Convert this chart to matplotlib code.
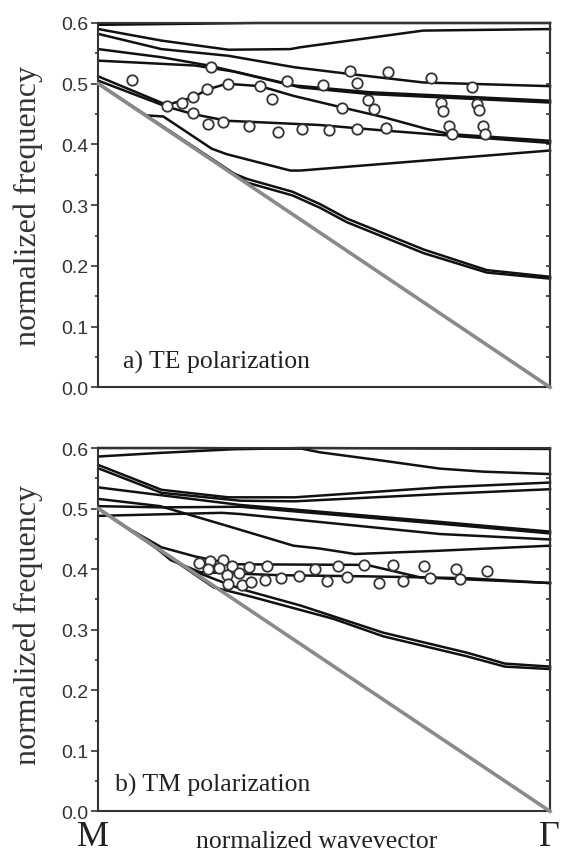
import matplotlib.pyplot as plt
from matplotlib.ticker import MultipleLocator

# TE bands (normalized wavevector M->Gamma, normalized frequency)
te1_k = [0, 0.33, 0.43, 0.49, 0.55, 0.72, 0.86, 1.0]
te1_f = [0.5, 0.337, 0.316, 0.296, 0.272, 0.221, 0.189, 0.179]
te2_k = [0, 0.30, 0.33, 0.43, 0.49, 0.55, 0.72, 0.86, 1.0]
te2_f = [0.5, 0.352, 0.343, 0.322, 0.302, 0.278, 0.227, 0.193, 0.182]
te3_k = [0, 0.104, 0.144, 0.251, 0.284, 0.425, 0.447, 1.0]
te3_f = [0.5, 0.448, 0.446, 0.393, 0.384, 0.357, 0.357, 0.39]
te4_k = [0, 0.152, 0.21, 0.284, 0.49, 0.631, 0.779, 1.0]
te4_f = [0.505, 0.462, 0.45, 0.439, 0.432, 0.423, 0.4145, 0.4025]
te5_k = [0, 0.152, 0.211, 0.24, 0.284, 0.358, 0.432, 0.539, 0.631, 0.727, 0.779, 1.0]
te5_f = [0.512, 0.465, 0.478, 0.49, 0.5, 0.496, 0.48, 0.461, 0.445, 0.4255, 0.417, 0.406]
te6_k = [0, 0.214, 0.30, 0.447, 0.60, 1.0]
te6_f = [0.538, 0.530, 0.52, 0.494, 0.483, 0.469]
te7_k = [0, 0.14, 0.244, 0.435, 0.60, 1.0]
te7_f = [0.557, 0.5436, 0.53, 0.497, 0.486, 0.472]
te8_k = [0, 0.14, 0.288, 0.435, 0.557, 0.72, 1.0]
te8_f = [0.582, 0.557, 0.546, 0.527, 0.516, 0.502, 0.496]
te9_k = [0, 0.14, 0.288, 0.425, 0.447, 0.719, 1.0]
te9_f = [0.59, 0.571, 0.556, 0.557, 0.56, 0.5875, 0.59]
te10_k = [0, 0.35, 1.0]
te10_f = [0.597, 0.6, 0.6]

# TE measured points
te_pts_k = [0.074, 0.249, 0.288, 0.358, 0.417, 0.151, 0.185, 0.210, 0.240, 0.210,
            0.242, 0.277, 0.334, 0.398, 0.450, 0.384, 0.498, 0.557, 0.642, 0.736,
            0.828, 0.573, 0.598, 0.611, 0.539, 0.758, 0.764, 0.839, 0.843, 0.777,
            0.784, 0.851, 0.856, 0.511, 0.572, 0.637]
te_pts_f = [0.506, 0.528, 0.4997, 0.496, 0.505, 0.464, 0.468, 0.478, 0.491, 0.451,
            0.434, 0.437, 0.430, 0.421, 0.4255, 0.475, 0.498, 0.5215, 0.520, 0.5095,
            0.494, 0.501, 0.474, 0.4585, 0.460, 0.468, 0.4545, 0.467, 0.457, 0.431,
            0.417, 0.431, 0.417, 0.423, 0.4255, 0.4265]

# TM bands
tm1_k = [0, 0.2, 0.45, 0.49, 0.631, 0.756, 0.852, 1.0]
tm1_f = [0.6, 0.6, 0.599, 0.593, 0.579, 0.566, 0.561, 0.557]
tm2_k = [0, 0.137, 0.3, 0.45, 1.0]
tm2_f = [0.586, 0.592, 0.598, 0.6, 0.5985]
tm3_k = [0, 0.14, 0.288, 0.435, 0.756, 1.0]
tm3_f = [0.572, 0.531, 0.5186, 0.5186, 0.535, 0.543]
tm4_k = [0, 0.14, 0.314, 0.435, 0.756, 1.0]
tm4_f = [0.5665, 0.526, 0.513, 0.512, 0.524, 0.532]
tm5_k = [0, 0.14, 0.314, 0.756, 1.0]
tm5_f = [0.535, 0.522, 0.506, 0.478, 0.462]
tm6_k = [0, 0.137, 0.284, 0.432, 0.49, 0.568, 0.742, 1.0]
tm6_f = [0.516, 0.504, 0.4717, 0.4387, 0.434, 0.425, 0.430, 0.4387]
tm7_k = [0, 0.14, 0.314, 0.756, 1.0]
tm7_f = [0.504, 0.502, 0.503, 0.475, 0.459]
tm8_k = [0, 0.273, 0.314, 0.756, 1.0]
tm8_f = [0.488, 0.493, 0.491, 0.458, 0.449]
tm9_k = [0, 0.06, 0.14, 0.214, 0.299, 0.594, 0.712, 1.0]
tm9_f = [0.5, 0.47, 0.436, 0.421, 0.408, 0.407, 0.3865, 0.377]
tm10_k = [0, 0.12, 0.16, 0.225, 0.4, 0.6, 0.816, 1.0]
tm10_f = [0.5, 0.44, 0.415, 0.395, 0.39, 0.388, 0.385, 0.377]
tm11_k = [0, 0.2, 0.28, 0.321, 0.447, 0.631, 0.816, 0.9, 1.0]
tm11_f = [0.5, 0.4, 0.377, 0.366, 0.34, 0.295, 0.262, 0.244, 0.239]
tm12_k = [0, 0.255, 0.336, 0.52, 0.631, 0.816, 0.9, 1.0]
tm12_f = [0.5, 0.370, 0.355, 0.318, 0.289, 0.256, 0.239, 0.235]

# TM measured points
tm_pts_k = [0.223, 0.247, 0.277, 0.242, 0.267, 0.295, 0.284, 0.311, 0.334, 0.374,
            0.288, 0.317, 0.338, 0.369, 0.404, 0.445, 0.480, 0.506, 0.531, 0.551,
            0.588, 0.621, 0.653, 0.675, 0.721, 0.734, 0.792, 0.800, 0.861]
tm_pts_f = [0.4096, 0.4134, 0.4155, 0.400, 0.4013, 0.4046, 0.390, 0.3935, 0.403, 0.4056,
            0.3754, 0.3737, 0.379, 0.382, 0.385, 0.389, 0.400, 0.381, 0.4056, 0.3865,
            0.4073, 0.3765, 0.4068, 0.381, 0.4056, 0.385, 0.401, 0.3836, 0.397]

te_bands = [(te1_k, te1_f), (te2_k, te2_f), (te3_k, te3_f), (te4_k, te4_f), (te5_k, te5_f),
            (te6_k, te6_f), (te7_k, te7_f), (te8_k, te8_f), (te9_k, te9_f), (te10_k, te10_f)]
tm_bands = [(tm1_k, tm1_f), (tm2_k, tm2_f), (tm3_k, tm3_f), (tm4_k, tm4_f), (tm5_k, tm5_f),
            (tm6_k, tm6_f), (tm7_k, tm7_f), (tm8_k, tm8_f), (tm9_k, tm9_f), (tm10_k, tm10_f),
            (tm11_k, tm11_f), (tm12_k, tm12_f)]

light_k = [0, 1]
light_f = [0.5, 0.0]

fig = plt.figure(figsize=(5.69, 8.54), dpi=100)
ax_te = fig.add_axes([0.1728, 0.5453, 0.7939, 0.4266])
ax_tm = fig.add_axes([0.1728, 0.0488, 0.7939, 0.4254])


def setup(ax, bands, pk, pf, label, lx, ly):
    for k, f in bands:
        ax.plot(k, f, color='#111111', lw=1.8, clip_on=False, zorder=2)
    ax.plot(light_k, light_f, color='#8a8a8a', lw=2.6, clip_on=False, zorder=3)
    ax.plot(pk, pf, 'o', ms=7.5, mfc='white', mec='#333333', mew=1.3, zorder=4)
    ax.set_xlim(0, 1)
    ax.set_ylim(0, 0.6)
    ax.set_xticks([])
    ax.yaxis.set_major_locator(MultipleLocator(0.1))
    ax.yaxis.set_minor_locator(MultipleLocator(0.05))
    ax.yaxis.set_major_formatter(plt.FormatStrFormatter('%.1f'))
    ax.tick_params(axis='y', which='major', direction='out', length=5, width=1.2,
                   color='#333333', pad=2, labelsize=14, labelcolor='#333333')
    ax.tick_params(axis='y', which='minor', direction='out', length=2.5, width=1.2,
                   color='#333333')
    for lab in ax.get_yticklabels():
        lab.set_family('Liberation Sans')
    for s in ax.spines.values():
        s.set_color('#333333')
        s.set_linewidth(1.5)
    right = ax.secondary_yaxis('right')
    right.yaxis.set_major_locator(MultipleLocator(0.1))
    right.yaxis.set_minor_locator(MultipleLocator(0.05))
    right.tick_params(which='both', direction='in', length=3, width=1.2,
                      color='#333333', labelright=False)
    right.spines['right'].set_color('#333333')
    right.spines['right'].set_linewidth(1.5)
    ax.text(lx, ly, label, transform=ax.transAxes, fontsize=18.5,
            family='Liberation Serif', color='#222222', va='baseline', ha='left')


setup(ax_te, te_bands, te_pts_k, te_pts_f, 'a) TE polarization', 0.055, 0.055)
setup(ax_tm, tm_bands, tm_pts_k, tm_pts_f, 'b) TM polarization', 0.037, 0.057)

fig.text(0.05, 0.7588, 'normalized frequency', rotation=90, fontsize=23,
         family='Liberation Serif', color='#333333', ha='center', va='center')
fig.text(0.05, 0.268, 'normalized frequency', rotation=90, fontsize=23,
         family='Liberation Serif', color='#333333', ha='center', va='center')
fig.text(0.557, 0.007, 'normalized wavevector', fontsize=18.5,
         family='Liberation Serif', color='#222222', ha='center', va='baseline')
fig.text(0.163, 0.009, 'M', fontsize=26, family='Liberation Serif',
         color='#222222', ha='center', va='baseline')
fig.text(0.966, 0.009, '\u0393', fontsize=26, family='Liberation Serif',
         color='#222222', ha='center', va='baseline')

fig.savefig('out.png', dpi=100)
